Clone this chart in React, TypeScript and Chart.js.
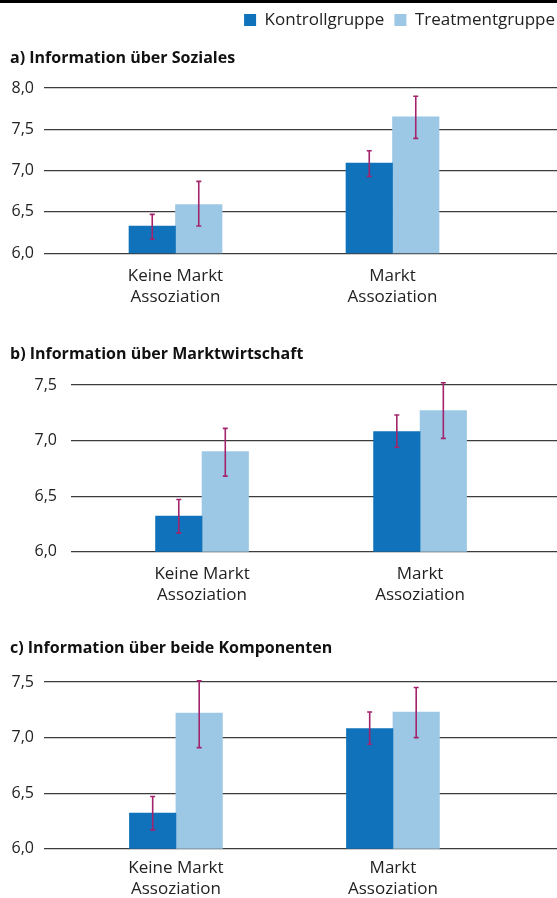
import React, { useEffect, useRef } from 'react';
import { Chart, registerables } from 'chart.js';
Chart.register(...registerables);

// ---- data ----
const categoryLabels = [['Keine Markt', 'Assoziation'], ['Markt', 'Assoziation']];
const seriesNames = ['Kontrollgruppe', 'Treatmentgruppe'];
const panelTitles = [
  'a) Information über Soziales',
  'b) Information über Marktwirtschaft',
  'c) Information über beide Komponenten',
];
const yTicksA = [6.0, 6.5, 7.0, 7.5, 8.0];
const yTicksB = [6.0, 6.5, 7.0, 7.5];
const yTicksC = [6.0, 6.5, 7.0, 7.5];

// a) Soziales
const sozialesKontroll = [6.33, 7.09];
const sozialesKontrollLow = [6.17, 6.93];
const sozialesKontrollHigh = [6.47, 7.24];
const sozialesTreatment = [6.59, 7.65];
const sozialesTreatmentLow = [6.33, 7.39];
const sozialesTreatmentHigh = [6.87, 7.9];

// b) Marktwirtschaft
const marktKontroll = [6.32, 7.08];
const marktKontrollLow = [6.17, 6.94];
const marktKontrollHigh = [6.47, 7.23];
const marktTreatment = [6.9, 7.27];
const marktTreatmentLow = [6.68, 7.02];
const marktTreatmentHigh = [7.11, 7.52];

// c) beide Komponenten
const beideKontroll = [6.32, 7.08];
const beideKontrollLow = [6.17, 6.94];
const beideKontrollHigh = [6.47, 7.23];
const beideTreatment = [7.22, 7.23];
const beideTreatmentLow = [6.91, 7.0];
const beideTreatmentHigh = [7.51, 7.45];

// ---- styles ----
const FONT = '"Open Sans", "DejaVu Sans", sans-serif';
const DARK = '#1072BA';
const LIGHT = '#9DC8E5';
const ERR = '#A3246C';
const TEXT = '#222';

const panels = [
  {
    title: panelTitles[0], yTicks: yTicksA, legend: true,
    kontroll: sozialesKontroll, kLow: sozialesKontrollLow, kHigh: sozialesKontrollHigh,
    treat: sozialesTreatment, tLow: sozialesTreatmentLow, tHigh: sozialesTreatmentHigh,
    top: 0, height: 322, padTop: 1.5, padBottom: 2.25, titleTop: 9.9, titleBottom: 20.4,
    yWidth: 34, yPad: 10, xPad: 11.75, xMin: -0.606, xMax: 1.758,
  },
  {
    title: panelTitles[1], yTicks: yTicksB, legend: false,
    kontroll: marktKontroll, kLow: marktKontrollLow, kHigh: marktKontrollHigh,
    treat: marktTreatment, tLow: marktTreatmentLow, tHigh: marktTreatmentHigh,
    top: 320, height: 302, padTop: 0, padBottom: 4.75, titleTop: 24.4, titleBottom: 21.4,
    yWidth: 61, yPad: 14, xPad: 11.25, xMin: -0.601, xMax: 1.628,
  },
  {
    title: panelTitles[2], yTicks: yTicksC, legend: false,
    kontroll: beideKontroll, kLow: beideKontrollLow, kHigh: beideKontrollHigh,
    treat: beideTreatment, tLow: beideTreatmentLow, tHigh: beideTreatmentHigh,
    top: 612, height: 299, padTop: 0, padBottom: 2.75, titleTop: 26.9, titleBottom: 23.9,
    yWidth: 34, yPad: 10, xPad: 8.25, xMin: -0.608, xMax: 1.756,
  },
];

const errorBarPlugin = {
  id: 'errorBars',
  afterDatasetsDraw(chart: any) {
    const { ctx } = chart;
    const y = chart.scales.y;
    chart.data.datasets.forEach((ds: any, di: number) => {
      const meta = chart.getDatasetMeta(di);
      meta.data.forEach((bar: any, i: number) => {
        const x = bar.x;
        const yl = y.getPixelForValue(ds.errLow[i]);
        const yh = y.getPixelForValue(ds.errHigh[i]);
        ctx.save();
        ctx.strokeStyle = ERR;
        ctx.lineWidth = 1.6;
        ctx.beginPath();
        ctx.moveTo(x, yl);
        ctx.lineTo(x, yh);
        ctx.moveTo(x - 2.5, yl);
        ctx.lineTo(x + 2.5, yl);
        ctx.moveTo(x - 2.5, yh);
        ctx.lineTo(x + 2.5, yh);
        ctx.stroke();
        ctx.restore();
      });
    });
  },
};

const topRulePlugin = {
  id: 'topRule',
  beforeDraw(chart: any) {
    const { ctx } = chart;
    ctx.save();
    ctx.fillStyle = '#000';
    ctx.fillRect(0, 0, chart.width, 3);
    ctx.restore();
  },
};

const legendShiftPlugin = {
  id: 'legendShift',
  afterLayout(chart: any) {
    if (chart.legend) {
      chart.legend.left += 8;
      chart.legend.right += 8;
    }
  },
};

function makeConfig(p: any): any {
  const fmt = (v: number) => v.toFixed(1).replace('.', ',');
  return {
    type: 'bar',
    data: {
      datasets: [
        {
          label: seriesNames[0],
          data: p.kontroll.map((v: number, i: number) => ({ x: i, y: v })),
          backgroundColor: DARK,
          barThickness: 46.5,
          errLow: p.kLow,
          errHigh: p.kHigh,
        },
        {
          label: seriesNames[1],
          data: p.treat.map((v: number, i: number) => ({ x: i, y: v })),
          backgroundColor: LIGHT,
          barThickness: 46.5,
          errLow: p.tLow,
          errHigh: p.tHigh,
        },
      ],
    },
    options: {
      responsive: false,
      animation: false,
      devicePixelRatio: 1,
      layout: { padding: { left: 10, right: 0, top: p.padTop, bottom: p.padBottom } },
      plugins: {
        legend: {
          display: p.legend,
          position: 'top',
          align: 'end',
          weight: 3000,
          labels: {
            boxWidth: 12,
            boxHeight: 12,
            padding: 10,
            color: TEXT,
            font: { family: FONT, size: 17 },
          },
        },
        title: {
          display: true,
          text: p.title,
          align: 'start',
          color: '#111',
          weight: 500,
          font: { family: FONT, size: 16, weight: 'bold', lineHeight: 1.2 },
          padding: { top: p.titleTop, bottom: p.titleBottom },
        },
        tooltip: { enabled: false },
      },
      scales: {
        x: {
          type: 'linear',
          min: p.xMin,
          max: p.xMax,
          offset: false,
          grid: { display: false, drawTicks: false },
          border: { display: false },
          afterBuildTicks: (s: any) => {
            s.ticks = categoryLabels.map((_, i) => ({ value: i }));
          },
          ticks: {
            callback: (v: number) => categoryLabels[v],
            color: TEXT,
            font: { family: FONT, size: 17, lineHeight: 1.265 },
            padding: p.xPad,
            maxRotation: 0,
            autoSkip: false,
          },
        },
        y: {
          type: 'linear',
          min: p.yTicks[0],
          max: p.yTicks[p.yTicks.length - 1],
          afterBuildTicks: (s: any) => {
            s.ticks = p.yTicks.map((v: number) => ({ value: v }));
          },
          afterFit: (s: any) => {
            s.width = p.yWidth;
          },
          grid: { color: '#3c3c3c', lineWidth: 1.2, drawTicks: false },
          border: { display: false },
          ticks: {
            callback: (v: number) => fmt(v),
            color: TEXT,
            font: { family: FONT, size: 16 },
            padding: p.yPad,
          },
        },
      },
    },
    plugins: p.legend ? [errorBarPlugin, topRulePlugin, legendShiftPlugin] : [errorBarPlugin],
  };
}

export default function App() {
  const r0 = useRef<HTMLCanvasElement>(null);
  const r1 = useRef<HTMLCanvasElement>(null);
  const r2 = useRef<HTMLCanvasElement>(null);
  const refs = [r0, r1, r2];
  useEffect(() => {
    const charts = panels.map((p, k) => new Chart(refs[k].current as HTMLCanvasElement, makeConfig(p)));
    return () => charts.forEach((c) => c.destroy());
  }, []);
  return (
    <div style={{ position: 'fixed', left: 0, top: 0, width: 557, height: 898, overflow: 'hidden', background: '#fff' }}>
      {panels.map((p, k) => (
        <canvas
          key={k}
          ref={refs[k]}
          width={557}
          height={p.height}
          style={{ position: 'absolute', left: 0, top: p.top, display: 'block', width: 557, height: p.height }}
        />
      ))}
    </div>
  );
}
